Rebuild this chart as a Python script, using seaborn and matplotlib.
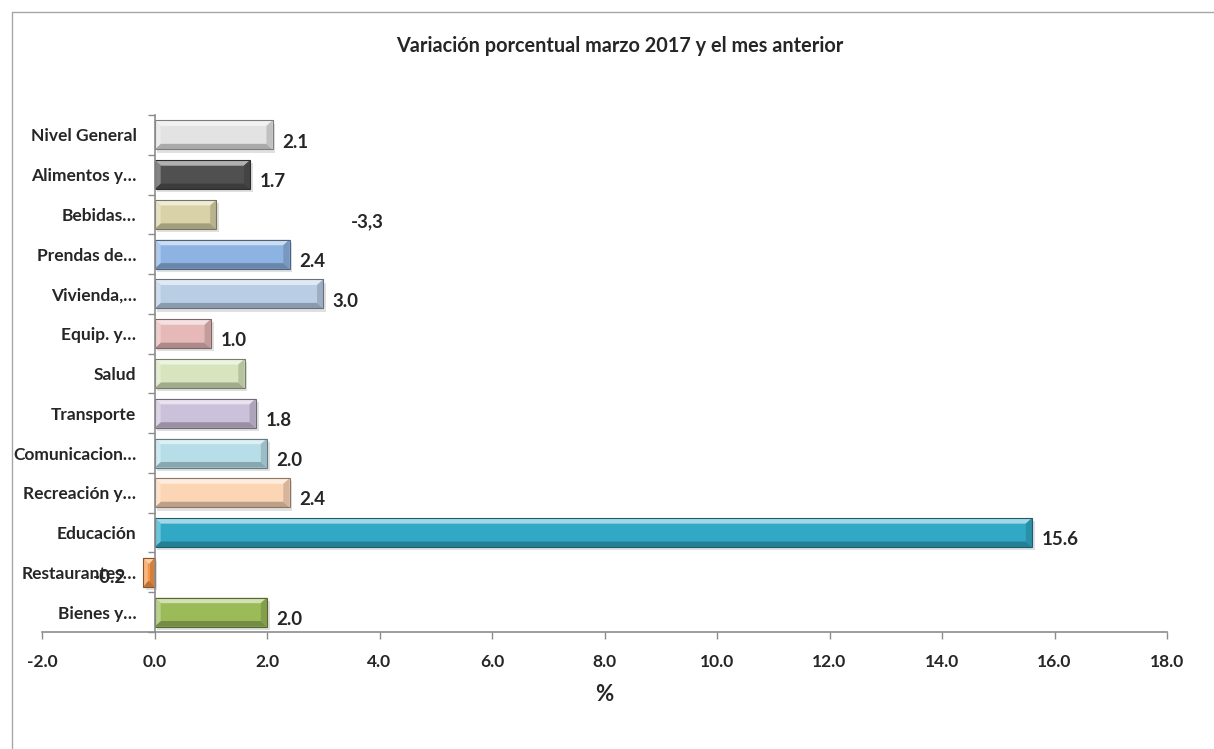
import numpy as np
import pandas as pd
import matplotlib.pyplot as plt
import matplotlib.colors as mcolors
from matplotlib.lines import Line2D
from matplotlib.patches import Polygon, Rectangle
import seaborn as sns

categories = ['Nivel General', 'Alimentos y…', 'Bebidas…', 'Prendas de…', 'Vivienda,…',
              'Equip. y…', 'Salud', 'Transporte', 'Comunicacion…', 'Recreación y…',
              'Educación', 'Restaurantes…', 'Bienes y…']
values = [2.1, 1.7, 1.1, 2.4, 3.0, 1.0, 1.6, 1.8, 2.0, 2.4, 15.6, -0.2, 2.0]
bar_labels = ['2.1', '1.7', '-3,3', '2.4', '3.0', '1.0', '', '1.8', '2.0', '2.4', '15.6', '-0.2', '2.0']
bar_colors = ['#e3e3e3', '#505050', '#d9d2a6', '#8db3e2', '#b9cde5', '#e6b9b8', '#d7e4bd',
              '#ccc1da', '#b7dee8', '#fcd5b5', '#31a9c6', '#f79646', '#9bbb59']
x_ticks = [-2.0, 0.0, 2.0, 4.0, 6.0, 8.0, 10.0, 12.0, 14.0, 16.0, 18.0]

df = pd.DataFrame({'cat': categories, 'val': values})

sns.set_theme(style='white')
plt.rcParams['font.family'] = ['Lato', 'DejaVu Sans']
plt.rcParams['font.weight'] = 'bold'

fig = plt.figure(figsize=(12.14, 7.49), dpi=100)
ax = fig.add_axes([42 / 1214, 1 - 632 / 749, 1125 / 1214, 517 / 749])

sns.barplot(data=df, x='val', y='cat', hue='cat', palette=bar_colors, legend=False,
            orient='h', width=0.73, ax=ax, edgecolor='none', linewidth=0,
            saturation=1)


def shade(c, f):
    rgb = np.array(mcolors.to_rgb(c))
    if f > 0:
        return tuple(rgb + (1 - rgb) * f)
    return tuple(rgb * (1 + f))


# bevel look: light top band, dark bottom band, shaded end caps, soft shadow
bx = 0.11
by = 0.14
for p in list(ax.patches):
    fc = p.get_facecolor()
    x0, y0 = p.get_x(), p.get_y()
    w, h = p.get_width(), p.get_height()
    x1, y1 = x0 + w, y0 + h
    if w < 0:
        x0, x1 = x1, x0
    bxx = min(bx, (x1 - x0) / 2.5)
    z = p.get_zorder()
    ax.add_patch(Rectangle((x0 + 0.05, y0 + 0.08), x1 - x0, h, facecolor='#000000',
                           alpha=0.12, edgecolor='none', zorder=z - 0.1))
    ax.add_patch(Polygon([(x0, y0), (x1, y0), (x1 - bxx, y0 + by), (x0 + bxx, y0 + by)],
                         facecolor=shade(fc, 0.55), edgecolor='none', zorder=z + 0.1))
    ax.add_patch(Polygon([(x0, y1), (x1, y1), (x1 - bxx, y1 - by), (x0 + bxx, y1 - by)],
                         facecolor=shade(fc, -0.25), edgecolor='none', zorder=z + 0.1))
    ax.add_patch(Polygon([(x1, y0), (x1, y1), (x1 - bxx, y1 - by), (x1 - bxx, y0 + by)],
                         facecolor=shade(fc, -0.15), edgecolor='none', zorder=z + 0.1))
    ax.add_patch(Polygon([(x0, y0), (x0, y1), (x0 + bxx, y1 - by), (x0 + bxx, y0 + by)],
                         facecolor=shade(fc, 0.3), edgecolor='none', zorder=z + 0.1))
    ax.add_patch(Rectangle((x0, y0), x1 - x0, h, fill=False, edgecolor=shade(fc, -0.45),
                           linewidth=0.8, zorder=z + 0.2))

ax.set_xlim(-2, 18)
ax.set_ylim(len(categories) - 0.5, -0.5)

# value labels
for i, (v, lab) in enumerate(zip(values, bar_labels)):
    if not lab:
        continue
    if lab == '-3,3':
        ax.text(3.5, i + 0.18, lab, ha='left', va='center', fontsize=13.5, fontweight='bold')
    elif v < 0:
        ax.text(v - 0.3, i + 0.12, lab, ha='right', va='center', fontsize=13.5, fontweight='bold')
    else:
        ax.text(v + 0.17, i + 0.18, lab, ha='left', va='center', fontsize=13.5, fontweight='bold')

# axes styling
for s in ['top', 'right']:
    ax.spines[s].set_visible(False)
ax.spines['left'].set_position(('data', 0))
ax.spines['left'].set_color('#8c8c8c')
ax.spines['bottom'].set_color('#8c8c8c')
ax.spines['left'].set_linewidth(1.2)
ax.spines['bottom'].set_linewidth(1.2)

ax.set_xticks(x_ticks)
ax.set_xticklabels([f'{t:.1f}' for t in x_ticks], fontsize=12.5, fontweight='bold')
ax.tick_params(axis='x', direction='out', length=5, width=1, color='#8c8c8c', pad=11, bottom=True)

ax.set_yticks(np.arange(-0.5, len(categories), 1.0))
ax.set_yticklabels([])
ax.set_yticks(np.arange(len(categories)), minor=True)
ax.set_yticklabels(categories, minor=True, fontsize=12.5, fontweight='bold')
ax.tick_params(axis='y', which='major', direction='out', length=5, width=1, color='#8c8c8c', left=True)
ax.tick_params(axis='y', which='minor', length=0, pad=13, left=True)

ax.set_xlabel('%', fontsize=16, fontweight='bold', labelpad=10)
ax.set_ylabel('')

fig.text(620 / 1214, 1 - 46 / 749, 'Variación porcentual marzo 2017 y el mes anterior',
         ha='center', va='center', fontsize=14.3, fontweight='bold')

# chart frame
fig.add_artist(Line2D([12 / 1214, 12 / 1214], [0, 1 - 12 / 749], color='#a6a6a6', lw=1))
fig.add_artist(Line2D([12 / 1214, 1], [1 - 12 / 749, 1 - 12 / 749], color='#a6a6a6', lw=1))

fig.savefig('out.png', dpi=100, facecolor='white')
